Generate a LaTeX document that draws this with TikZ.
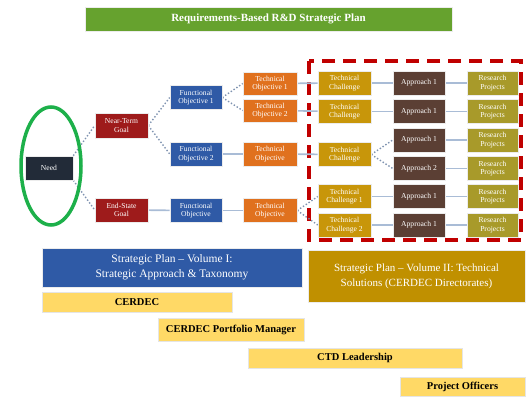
\documentclass[tikz,border=0pt]{standalone}
\usepackage{fontspec}
\setmainfont{Liberation Serif}
\usetikzlibrary{shadows}
\pgfdeclarelayer{background}
\pgfsetlayers{background,main}
\definecolor{ttlgreen}{HTML}{66A22E}
\definecolor{ellgreen}{HTML}{1DB04A}
\definecolor{needc}{HTML}{222B38}
\definecolor{goalc}{HTML}{9E1B1B}
\definecolor{funcc}{HTML}{2F5AA6}
\definecolor{techc}{HTML}{E0711E}
\definecolor{chalc}{HTML}{C8960A}
\definecolor{apprc}{HTML}{5B3F34}
\definecolor{resc}{HTML}{A89A2A}
\definecolor{volb}{HTML}{2F5AA6}
\definecolor{volg}{HTML}{C09000}
\definecolor{barc}{HTML}{FFD966}
\definecolor{linec}{HTML}{A9BCD6}
\definecolor{dotc}{HTML}{7F93B0}
\definecolor{dashred}{HTML}{C00000}
\tikzset{
  box/.style={draw=white!85!gray, line width=0.6pt, text=white, align=center,
    inner sep=0.5pt, font=\fontsize{7.6}{8.6}\selectfont,
    drop shadow={opacity=0.35, shadow xshift=0.8pt, shadow yshift=-0.8pt}},
  bar/.style={draw=white!80!gray, line width=0.6pt, fill=barc, text=black,
    font=\fontsize{10.5}{12}\selectfont\bfseries,
    drop shadow={opacity=0.3, shadow xshift=0.8pt, shadow yshift=-0.8pt}},
  sline/.style={linec, line width=1.6pt},
  dline/.style={dotc, line width=1.4pt, dotted}
}
\begin{document}
\begin{tikzpicture}[x=1pt,y=-1pt]
\useasboundingbox (0,0) rectangle (526,396);
% title
\node[box, fill=ttlgreen, minimum width=367, minimum height=24,
  font=\fontsize{11}{12}\selectfont\bfseries] (title) at (268.5,19) {Requirements-Based R\&D Strategic Plan};
% need
\node[box, fill=needc, minimum width=48, minimum height=24] (need) at (49,168) {Need};
% goals
\node[box, fill=goalc, minimum width=53, minimum height=25] (g1) at (121.5,125.5) {Near-Term\\Goal};
\node[box, fill=goalc, minimum width=53, minimum height=24] (g2) at (121.5,210) {End-State\\Goal};
% functional objectives
\node[box, fill=funcc, minimum width=52, minimum height=24] (f1) at (196,97.5) {Functional\\Objective 1};
\node[box, fill=funcc, minimum width=52, minimum height=24] (f2) at (196,154) {Functional\\Objective 2};
\node[box, fill=funcc, minimum width=52, minimum height=24] (f3) at (196,210.5) {Functional\\Objective};
% technical objectives
\node[box, fill=techc, minimum width=54, minimum height=23] (t1) at (270,83.5) {Technical\\Objective 1};
\node[box, fill=techc, minimum width=54, minimum height=23] (t2) at (270,110.5) {Technical\\Objective 2};
\node[box, fill=techc, minimum width=54, minimum height=24] (t3) at (270,154) {Technical\\Objective};
\node[box, fill=techc, minimum width=54, minimum height=24] (t4) at (270,210.5) {Technical\\Objective};
% challenges
\node[box, fill=chalc, minimum width=53, minimum height=24] (c1) at (344.5,83) {Technical\\Challenge};
\node[box, fill=chalc, minimum width=53, minimum height=24] (c2) at (344.5,111.5) {Technical\\Challenge};
\node[box, fill=chalc, minimum width=53, minimum height=24] (c3) at (344.5,154.5) {Technical\\Challenge};
\node[box, fill=chalc, minimum width=53, minimum height=24] (c4) at (344.5,196.5) {Technical\\Challenge 1};
\node[box, fill=chalc, minimum width=53, minimum height=24] (c5) at (344.5,225) {Technical\\Challenge 2};
% approaches
\node[box, fill=apprc, minimum width=52, minimum height=24] (a1) at (419,83) {Approach 1};
\node[box, fill=apprc, minimum width=52, minimum height=24] (a2) at (419,111.5) {Approach 1};
\node[box, fill=apprc, minimum width=52, minimum height=24] (a3) at (419,140) {Approach 1};
\node[box, fill=apprc, minimum width=52, minimum height=24] (a4) at (419,168.5) {Approach 2};
\node[box, fill=apprc, minimum width=52, minimum height=24] (a5) at (419,196.5) {Approach 1};
\node[box, fill=apprc, minimum width=52, minimum height=24] (a6) at (419,225) {Approach 1};
% research projects
\foreach \i/\y in {1/83,2/111.5,3/140,4/168.5,5/196.5,6/225}{
  \node[box, fill=resc, minimum width=51, minimum height=24] (r\i) at (492.5,\y) {Research\\Projects};
}
% connectors and dashed region behind the boxes
\begin{pgfonlayer}{background}
\draw[dashred, line width=4pt, dash pattern=on 13pt off 8pt] (309,61) rectangle (521,240);
\draw[dline] (need.north east) -- (g1.west);
\draw[dline] (need.south east) -- (g2.west);
\draw[dline] (g1.east) -- (f1.west);
\draw[dline] (g1.east) -- (f2.west);
\draw[sline] (g2) -- (f3);
\draw[dline] (f1.east) -- (t1.west);
\draw[dline] (f1.east) -- (t2.west);
\draw[sline] (f2) -- (t3);
\draw[sline] (f3) -- (t4);
\draw[sline] (t1) -- (c1);
\draw[sline] (t2) -- (c2);
\draw[sline] (t3) -- (c3);
\draw[dline] (t4.east) -- (c4.west);
\draw[dline] (t4.east) -- (c5.west);
\draw[sline] (c1) -- (a1);
\draw[sline] (c2) -- (a2);
\draw[dline] (c3.east) -- (a3.west);
\draw[dline] (c3.east) -- (a4.west);
\draw[sline] (c4) -- (a5);
\draw[sline] (c5) -- (a6);
\foreach \i in {1,...,6}{\draw[sline] (a\i) -- (r\i);}
\end{pgfonlayer}
% ellipse around the need
\coordinate (ellc) at (51,166);
\draw[ellgreen, line width=3.5pt] (ellc) ellipse [x radius=30, y radius=59];
% volumes
\node[box, fill=volb, minimum width=260, minimum height=39,
  font=\fontsize{11.5}{15}\selectfont] (v1) at (172,267.5) {Strategic Plan -- Volume I:\\Strategic Approach \& Taxonomy};
\node[box, fill=volg, minimum width=217, minimum height=52,
  font=\fontsize{11}{15}\selectfont] (v2) at (416.5,276) {Strategic Plan -- Volume II: Technical\\Solutions (CERDEC Directorates)};
% role bars
\node[bar, minimum width=190, minimum height=20] (b1) at (137,302) {CERDEC};
\node[bar, minimum width=146, minimum height=23] (b2) at (231,329.5) {CERDEC Portfolio Manager};
\node[bar, minimum width=214, minimum height=20] (b3) at (355,358) {CTD Leadership};
\node[bar, minimum width=125, minimum height=19] (b4) at (462.5,386.5) {Project Officers};
\end{tikzpicture}
\end{document}
